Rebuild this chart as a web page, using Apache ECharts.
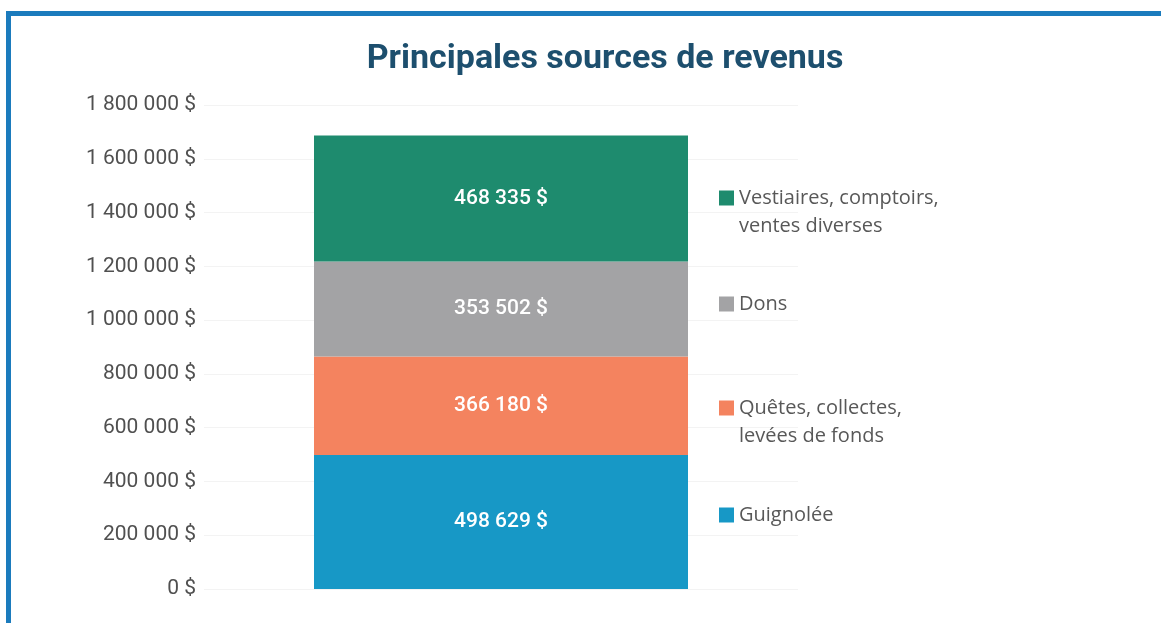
<!DOCTYPE html>
<html>
<head>
<meta charset="utf-8">
<script src="https://cdn.jsdelivr.net/npm/echarts@6/dist/echarts.min.js"></script>
<style>
  html, body { margin: 0; padding: 0; background: #fff; }
  .frame {
    position: absolute; left: 6px; top: 11px; right: 0; bottom: 0;
    border-top: 5px solid #1b7bbd; border-left: 5px solid #1b7bbd;
  }
  #chart { position: absolute; left: 0; top: 0; width: 1161px; height: 623px; }
</style>
</head>
<body>
<div class="frame"></div>
<div id="chart"></div>
<script>
const categories = ['Revenus']
const seriesNames = ['Guignolée', 'Quêtes, collectes,\nlevées de fonds', 'Dons', 'Vestiaires, comptoirs,\nventes diverses']
const guignolee = [498629]
const quetes = [366180]
const dons = [353502]
const vestiaires = [468335]
const colors = ['#1798c6', '#f4835f', '#a3a3a5', '#1e8b6e']
// legend rows, top to bottom as in the picture
const legendTops = [156, 290, 366, 501]

const fmt = v => String(v).replace(/\B(?=(\d{3})+(?!\d))/g, ' ') + ' $'

const chart = echarts.init(document.getElementById('chart'))

const legendOrder = [3, 2, 1, 0]
const legends = legendOrder.map((idx, i) => {
  const multi = seriesNames[idx].includes('\n')
  return {
    left: 719,
    top: legendTops[i],
    padding: 0,
    itemWidth: 15,
    itemHeight: 15,
    icon: 'rect',
    selectedMode: false,
    data: [seriesNames[idx]],
    // empty first line keeps the square level with the first text line
    formatter: name => (multi ? '\n' + name : name),
    textStyle: {
      fontFamily: 'Open Sans',
      fontSize: 20,
      color: '#585858',
      lineHeight: 28
    }
  }
})

const seriesData = [guignolee, quetes, dons, vestiaires]

chart.setOption({
  title: {
    text: 'Principales sources de revenus',
    left: 600,
    textAlign: 'center',
    top: 37,
    textStyle: { fontFamily: 'Roboto', fontSize: 34, fontWeight: 'bold', color: '#1d4f6e' }
  },
  legend: legends,
  grid: { left: 204, top: 105, bottom: 34, width: 594 },
  xAxis: {
    type: 'category',
    data: categories,
    axisLine: { show: false },
    axisTick: { show: false },
    axisLabel: { show: false }
  },
  yAxis: {
    type: 'value',
    min: 0,
    max: 1800000,
    interval: 200000,
    axisLine: { show: false },
    axisTick: { show: false },
    splitLine: { lineStyle: { color: '#f3f3f3' } },
    axisLabel: {
      fontFamily: 'Roboto',
      fontSize: 21,
      color: '#505050',
      margin: 8,
      formatter: fmt
    }
  },
  series: seriesData.map((d, i) => ({
    name: seriesNames[i],
    type: 'bar',
    stack: 'total',
    data: d,
    barWidth: 374,
    itemStyle: { color: colors[i] },
    label: {
      show: true,
      position: 'inside',
      color: '#fff',
      fontFamily: 'Roboto',
      fontSize: 21,
      fontWeight: 500,
      formatter: p => fmt(p.value)
    }
  }))
})
</script>
</body>
</html>
